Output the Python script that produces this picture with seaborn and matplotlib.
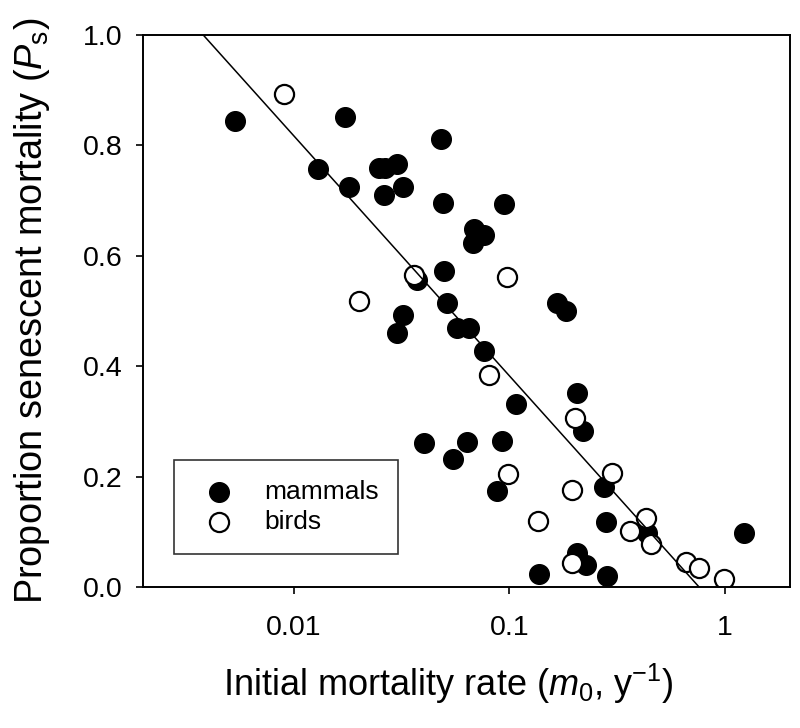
import numpy as np
import pandas as pd
import matplotlib
matplotlib.use("Agg")
import matplotlib.pyplot as plt
import seaborn as sns

# initial mortality rate (m0, per year) and proportion senescent mortality (Ps)
mammal_m0 = [0.00536, 0.01725, 0.0481, 0.01293, 0.0248, 0.02636, 0.03006, 0.0180,
             0.0322, 0.02616, 0.0491, 0.0943, 0.0684, 0.0762, 0.0680, 0.0371,
             0.0500, 0.0511, 0.0322, 0.0302, 0.0573, 0.0649, 0.0762, 0.1668,
             0.1823, 0.1076, 0.2066, 0.2203, 0.0401, 0.0549, 0.0633, 0.0927,
             0.0872, 0.1370, 0.2745, 0.2816, 0.2050, 0.2258, 0.2846, 0.4363, 1.225]
mammal_ps = [0.845, 0.851, 0.812, 0.758, 0.759, 0.759, 0.766, 0.724,
             0.725, 0.711, 0.695, 0.694, 0.648, 0.638, 0.624, 0.556,
             0.572, 0.514, 0.492, 0.460, 0.470, 0.470, 0.428, 0.515,
             0.500, 0.331, 0.351, 0.283, 0.261, 0.232, 0.263, 0.264,
             0.174, 0.024, 0.181, 0.118, 0.061, 0.040, 0.020, 0.097, 0.097]

bird_m0 = [0.00903, 0.0201, 0.0360, 0.0970, 0.0803, 0.2007, 0.0985, 0.1356, 0.1950,
           0.2990, 0.1958, 0.4317, 0.3612, 0.4520, 0.6594, 0.7549, 0.9936]
bird_ps = [0.893, 0.518, 0.565, 0.562, 0.384, 0.307, 0.205, 0.120, 0.176,
           0.207, 0.043, 0.125, 0.102, 0.078, 0.046, 0.034, 0.014]

# fitted line: Ps = a + b * log10(m0)
fit_a = -0.0525
fit_b = -0.435

mammals = pd.DataFrame({"m0": mammal_m0, "ps": mammal_ps})
birds = pd.DataFrame({"m0": bird_m0, "ps": bird_ps})

sns.set_style("ticks")
plt.rcParams["font.family"] = ["Liberation Sans", "DejaVu Sans"]
plt.rcParams["mathtext.fontset"] = "custom"
plt.rcParams["mathtext.rm"] = "Liberation Sans"
plt.rcParams["mathtext.it"] = "Liberation Sans:italic"
plt.rcParams["text.color"] = "black"
plt.rcParams["axes.labelcolor"] = "black"

fig = plt.figure(figsize=(8, 7.28), dpi=100)
ax = fig.add_axes([0.17875, 0.1937, 0.80875, 0.7582])

sns.scatterplot(data=mammals, x="m0", y="ps", ax=ax, color="black",
                edgecolor="black", linewidth=1, s=200, label="mammals", zorder=2)
sns.scatterplot(data=birds, x="m0", y="ps", ax=ax, color="white",
                edgecolor="black", linewidth=1.6, s=190, label="birds", zorder=2.5)

line_x = np.array([0.002, 2.0])
ax.plot(line_x, fit_a + fit_b * np.log10(line_x), color="black", lw=1.1, zorder=3)

ax.set_xscale("log")
ax.set_xlim(0.002, 2)
ax.set_ylim(0, 1)
ax.set_xticks([0.01, 0.1, 1])
ax.set_xticklabels(["0.01", "0.1", "1"])
ax.xaxis.set_minor_locator(matplotlib.ticker.NullLocator())
ax.set_yticks([0, 0.2, 0.4, 0.6, 0.8, 1.0])
ax.set_yticklabels(["0.0", "0.2", "0.4", "0.6", "0.8", "1.0"])
ax.tick_params(axis="both", direction="out", length=5, width=1.2,
               labelsize=20.5, color="black", labelcolor="black")
ax.tick_params(axis="x", pad=15)
ax.tick_params(axis="y", pad=10)

for sp in ax.spines.values():
    sp.set_visible(True)
    sp.set_linewidth(1.4)
    sp.set_color("black")

ax.set_xlabel(r"Initial mortality rate ($m_{\mathrm{0}}$, y$^{\mathrm{-1}}$)",
              fontsize=26, labelpad=16)
ax.xaxis.set_label_coords(0.472, -0.135)
ax.set_ylabel(r"Proportion senescent mortality ($P_{\mathrm{s}}$)",
              fontsize=27.3, labelpad=22)

leg = ax.legend(loc="lower left", bbox_to_anchor=(0.0484, 0.0598),
                borderaxespad=0, fontsize=19, frameon=True, fancybox=False,
                handletextpad=0.75, borderpad=0.75, labelspacing=0.25,
                handlelength=1.9, markerscale=1.0)
leg.get_frame().set_edgecolor("black")
leg.get_frame().set_linewidth(1.2)

plt.savefig("out.png", dpi=100)
plt.close()
